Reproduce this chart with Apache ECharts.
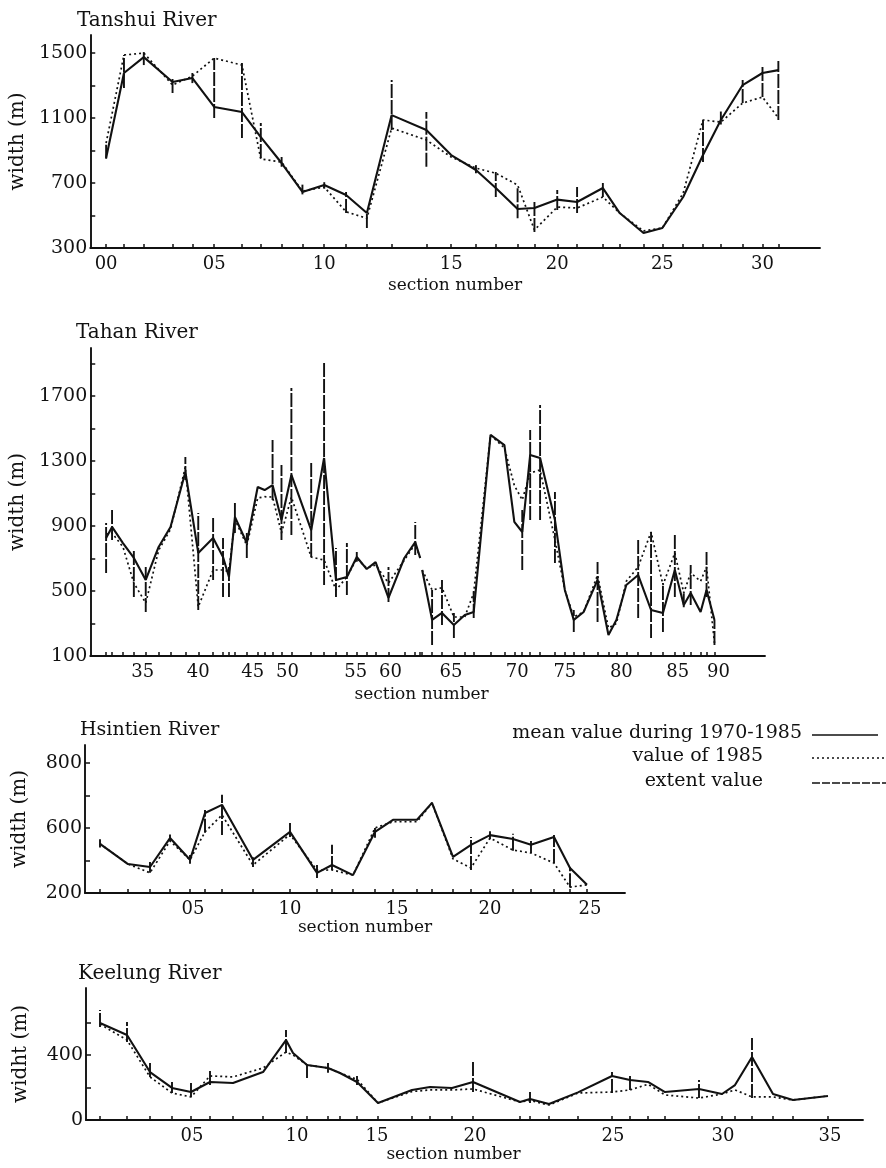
<!DOCTYPE html>
<html><head><meta charset="utf-8">
<script src="https://cdn.jsdelivr.net/npm/echarts@6/dist/echarts.min.js"></script>
<style>html,body{margin:0;padding:0;background:#fff}#c{width:886px;height:1168px}</style>
</head><body><div id="c"></div>
<script>
// ---------- DATA ----------
// x = relative position of each cross-section along the river (axis units)
// Tanshui River
const tanshuiPos  = [16,34,54,83,103,125,153,172,193,214,236,258,279,304,339,364,389,409,431,448,471,491,517,534,558,577,598,618,636,658,678,694];
const tanshuiMean = [854,1377,1475,1322,1346,1168,1137,983,823,645,688,626,515,1118,1026,872,780,669,540,546,598,583,669,515,392,423,614,872,1088,1303,1377,1395];
const tanshui1985 = [946,1488,1500,1303,1358,1469,1426,848,829,650,675,523,483,1038,965,860,792,760,688,411,552,546,614,515,405,423,638,1088,1075,1192,1229,1100];
const tanshuiExtLo = [850,1285,1426,1254,1315,1100,977,854,800,630,665,515,423,1026,800,null,760,614,483,398,534,515,614,null,null,null,null,829,1060,1192,1229,1088];
const tanshuiExtHi = [950,1488,1506,1352,1377,1469,1438,1069,860,690,705,645,523,1334,1137,null,810,768,675,595,657,675,706,null,null,null,null,1088,1140,1334,1414,1451];
const tanshuiXLabPos  = [16,125,236,364,471,577,678];
const tanshuiXLabText = ['00','05','10','15','20','25','30'];
const tanshuiYTicks   = [300,500,700,900,1100,1300,1500];
const tanshuiYLabPos  = [300,700,1100,1500];
const tanshuiYLabText = ['300','700','1100','1500'];

// Tahan River
const tahanPos  = [16,22,33,44,56,69,81,96,109,124,134,140,146,158,169,176,184,193,203,223,236,248,259,269,279,288,301,317,328,333,334,335,345,355,367,378,387,404,418,428,436,444,454,469,479,488,498,512,523,531,541,553,566,578,590,599,606,616,622,630];
const tahanMean = [826,894,795,703,568,771,894,1232,734,826,709,586,955,795,1140,1121,1152,937,1214,875,1318,568,586,709,635,678,457,703,801,703,null,629,322,365,291,352,371,1460,1398,925,863,1337,1318,937,506,322,371,568,229,322,537,598,383,365,629,414,488,371,506,322];
const tahan1985 = [850,857,771,549,426,750,880,1263,402,629,629,620,940,780,1072,1080,1078,857,1078,709,690,506,586,700,640,660,549,690,790,700,null,629,506,520,340,340,488,1460,1380,1150,1060,1226,1245,814,506,340,371,598,272,300,560,648,863,537,734,488,611,560,648,180];
const tahanExtLo = [611,814,null,463,371,null,null,1183,383,568,463,463,857,703,null,null,1060,814,845,709,537,463,475,680,null,null,432,null,722,null,null,null,168,291,211,null,334,null,null,null,629,937,937,672,null,248,null,309,null,null,null,334,211,248,463,400,414,null,463,168];
const tahanExtHi = [918,998,null,752,648,null,null,1325,980,955,826,648,1041,857,null,null,1429,1275,1749,1288,1903,765,795,740,null,null,648,null,925,null,null,null,506,568,365,null,500,null,null,null,998,1491,1645,1109,null,383,null,678,null,null,null,814,863,549,857,500,660,null,740,322];
const tahanXLabPos  = [53,109,164,199,268,303,364,431,479,536,593,634];
const tahanXLabText = ['35','40','45','50','55','60','65','70','75','80','85','90'];
const tahanYTicks   = [100,300,500,700,900,1100,1300,1500,1700,1900];
const tahanYLabPos  = [100,500,900,1300,1700];
const tahanYLabText = ['100','500','900','1300','1700'];

// Hsintien River
const hsintienPos  = [15,43,65,85,105,120,137,168,205,232,247,268,290,308,332,347,368,386,405,428,446,469,485,502];
const hsintienMean = [551,489,480,569,502,646,671,502,588,462,486,455,588,625,625,677,511,548,578,566,548,572,477,425];
const hsintien1985 = [551,489,462,560,502,588,640,486,580,470,471,455,600,619,619,677,505,477,569,532,523,492,418,425];
const hsintienExtLo = [540,null,462,560,490,585,578,480,572,446,471,null,570,null,null,null,null,471,565,530,523,492,418,null];
const hsintienExtHi = [565,null,495,580,517,655,702,510,618,486,548,null,600,null,null,null,null,572,590,582,560,578,480,null];
const hsintienXLabPos  = [108,205,312,405,505];
const hsintienXLabText = ['05','10','15','20','25'];
const hsintienYTicks   = [400,500,600,700,800];
const hsintienYLabPos  = [400,600,800];
const hsintienYLabText = ['200','600','800'];

// Keelung River
const keelungPos  = [14,41,64,86,105,124,147,177,200,207,221,242,254,271,292,326,344,366,387,434,444,463,492,526,544,562,579,613,636,649,666,687,707,742];
const keelungMean = [597,523,295,197,172,234,228,295,492,412,338,320,289,234,105,185,203,197,234,111,129,98,170,271,246,234,172,191,160,215,388,160,123,148];
const keelung1985 = [590,492,265,166,142,271,265,320,418,400,338,320,289,250,105,175,185,185,191,111,120,92,166,172,185,220,154,135,160,185,142,142,123,148];
const keelungExtLo = [572,480,265,166,142,215,null,null,412,null,258,290,null,215,null,null,null,null,172,null,105,null,null,166,185,null,null,135,null,null,135,null,null,null];
const keelungExtHi = [677,603,351,234,228,308,null,null,554,null,351,350,null,270,null,null,null,null,369,null,172,null,null,295,271,null,null,246,null,null,505,null,null,null];
const keelungXLabPos  = [106,211,291,389,527,637,744];
const keelungXLabText = ['05','10','15','20','25','30','35'];
const keelungYTicks   = [0,200,400,600];
const keelungYLabPos  = [0,400];
const keelungYLabText = ['0','400'];

const legendLabels = ['mean value during 1970-1985','value of 1985','extent value'];

// ---------- LAYOUT ----------
const FONT = 'DejaVu Serif';
const INK = '#111111';
const layouts = [
  {left:84, top:35,  width:736, height:213, yMin:300, yMax:1611, titleX:77, titleY:11,  titleSize:20, xNameGap:29, xNamePad:[0,0,0,0]},
  {left:84, top:348, width:681, height:308, yMin:100, yMax:1995, titleX:76, titleY:323, titleSize:20, xNameGap:30, xNamePad:[0,12,0,0]},
  {left:85, top:745, width:540, height:148, yMin:400, yMax:855,  titleX:80, titleY:721, titleSize:19, xNameGap:26, xNamePad:[0,0,0,20]},
  {left:86, top:988, width:777, height:132, yMin:0,   yMax:812,  titleX:78, titleY:964, titleSize:20, xNameGap:24, xNamePad:[0,42,0,0]}
];

const rivers = [
  {title:'Tanshui River', yName:'width (m)', pos:tanshuiPos, mean:tanshuiMean, v85:tanshui1985, lo:tanshuiExtLo, hi:tanshuiExtHi,
   xLP:tanshuiXLabPos, xLT:tanshuiXLabText, yT:tanshuiYTicks, yLP:tanshuiYLabPos, yLT:tanshuiYLabText},
  {title:'Tahan River', yName:'width (m)', pos:tahanPos, mean:tahanMean, v85:tahan1985, lo:tahanExtLo, hi:tahanExtHi,
   xLP:tahanXLabPos, xLT:tahanXLabText, yT:tahanYTicks, yLP:tahanYLabPos, yLT:tahanYLabText},
  {title:'Hsintien River', yName:'width (m)', pos:hsintienPos, mean:hsintienMean, v85:hsintien1985, lo:hsintienExtLo, hi:hsintienExtHi,
   xLP:hsintienXLabPos, xLT:hsintienXLabText, yT:hsintienYTicks, yLP:hsintienYLabPos, yLT:hsintienYLabText},
  {title:'Keelung River', yName:'widht (m)', pos:keelungPos, mean:keelungMean, v85:keelung1985, lo:keelungExtLo, hi:keelungExtHi,
   xLP:keelungXLabPos, xLT:keelungXLabText, yT:keelungYTicks, yLP:keelungYLabPos, yLT:keelungYLabText}
];

function pairs(pos, vals){ return pos.map((p,i)=>[p, vals[i]==null ? '-' : vals[i]]); }
function extents(pos, lo, hi){
  const out=[]; pos.forEach((p,i)=>{ if(lo[i]!=null && hi[i]!=null) out.push([p,lo[i],hi[i]]); }); return out;
}
function lookup(keys, texts){ const m=new Map(); keys.forEach((k,i)=>m.set(k,texts[i])); return v=>{ const t=m.get(v); return t==null?'':t; }; }

const grids=[], xAxes=[], yAxes=[], series=[], graphics=[];
rivers.forEach((r,i)=>{
  const L = layouts[i];
  grids.push({left:L.left, top:L.top, width:L.width, height:L.height});
  xAxes.push({
    gridIndex:i, type:'value', min:0, max:L.width,
    name:'section number', nameLocation:'middle', nameGap:L.xNameGap,
    nameTextStyle:{fontFamily:FONT, fontSize:17, color:INK, padding:L.xNamePad},
    axisLine:{show:true, onZero:false, lineStyle:{color:INK, width:1.9}},
    axisTick:{show:true, inside:true, length:4, customValues:r.pos.filter((p,k)=>r.mean[k]!=null), lineStyle:{color:INK, width:1.5}},
    axisLabel:{show:true, customValues:r.xLP, formatter:lookup(r.xLP, r.xLT), margin:7, fontFamily:FONT, fontSize:18, color:INK},
    splitLine:{show:false}
  });
  yAxes.push({
    gridIndex:i, type:'value', min:L.yMin, max:L.yMax,
    name:r.yName, nameLocation:'middle', nameGap:55,
    nameTextStyle:{fontFamily:FONT, fontSize:20, color:INK},
    axisLine:{show:true, onZero:false, lineStyle:{color:INK, width:1.9}},
    axisTick:{show:true, inside:true, length:5, customValues:r.yT, lineStyle:{color:INK, width:1.5}},
    axisLabel:{show:true, customValues:r.yLP, formatter:lookup(r.yLP, r.yLT), margin:3, fontFamily:FONT, fontSize:19, color:INK},
    splitLine:{show:false}
  });
  series.push({
    type:'custom', xAxisIndex:i, yAxisIndex:i, silent:true, z:3,
    data:extents(r.pos, r.lo, r.hi), encode:{x:0, y:[1,2]},
    renderItem:(params, api)=>{
      const a = api.coord([api.value(0), api.value(1)]);
      const b = api.coord([api.value(0), api.value(2)]);
      return {type:'line', shape:{x1:a[0], y1:a[1], x2:b[0], y2:b[1]},
              style:{stroke:INK, lineWidth:1.9, lineDash:[14,2]}};
    }
  });
  series.push({
    type:'line', xAxisIndex:i, yAxisIndex:i, data:pairs(r.pos, r.v85), symbol:'none', silent:true, z:2,
    lineStyle:{color:INK, width:1.7, type:[2,3]}
  });
  series.push({
    type:'line', xAxisIndex:i, yAxisIndex:i, data:pairs(r.pos, r.mean), symbol:'none', silent:true, z:4,
    lineStyle:{color:INK, width:2.1, type:'solid'}
  });
  graphics.push({type:'text', left:L.titleX, top:L.titleY, style:{text:r.title, font:L.titleSize+'px "DejaVu Serif"', fill:INK}});
});

// legend (drawn as text + line samples)
const legY = [733, 756, 781];
const legTextRight = [802, 763, 763];
const legLineEnd = [878, 886, 886];
const legDash = [null, [2,3], [8,2]];
legendLabels.forEach((t,k)=>{
  graphics.push({type:'text', x:legTextRight[k], y:legY[k],
    style:{text:t, font:'19px "DejaVu Serif"', fill:INK, textAlign:'right', align:'right', textVerticalAlign:'middle', verticalAlign:'middle'}});
  graphics.push({type:'line', shape:{x1:812, y1:legY[k]+2, x2:legLineEnd[k], y2:legY[k]+2},
    style:{stroke:INK, lineWidth:1.6, lineDash:legDash[k]}});
});

const chart = echarts.init(document.getElementById('c'), null, {renderer:'canvas'});
chart.setOption({
  animation:false, backgroundColor:'#ffffff',
  grid:grids, xAxis:xAxes, yAxis:yAxes, series:series, graphic:graphics
});
</script></body></html>
